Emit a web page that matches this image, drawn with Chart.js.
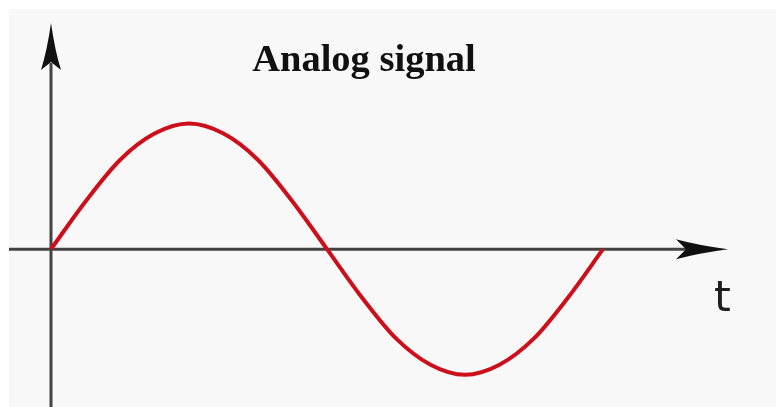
<!DOCTYPE html>
<html>
<head>
<meta charset="utf-8">
<title>Analog signal</title>
<script src="https://cdn.jsdelivr.net/npm/chart.js@4/dist/chart.umd.min.js"></script>
<style>
    body { margin: 0; background: #ffffff; }
    canvas { display: block; }
</style>
</head>
<body>
<canvas id="signalChart" width="776" height="407"></canvas>
<script>
// --- Signal samples (time vs. amplitude) ---
const timeSteps = [0, 0.5, 1, 1.5, 2, 2.5, 3, 3.5, 4, 4.5, 5, 5.5, 6, 6.5, 7, 7.5, 8];
const amplitude = [0, 0.38, 0.71, 0.92, 1, 0.92, 0.71, 0.38, 0, -0.38, -0.71, -0.92, -1, -0.92, -0.71, -0.38, 0];
const titleText = 'Analog signal';
const timeLabel = 't';

document.addEventListener('DOMContentLoaded', function () {
    const ctx = document.getElementById('signalChart')?.getContext('2d');
    if (!ctx) {
        console.warn("Canvas 'signalChart' not found.");
        return;
    }

    // Paper background, axes with arrow heads, title and the time label
    const axesPlugin = {
        id: 'axesWithArrows',
        beforeDraw(chart) {
            const c = chart.ctx;
            c.save();
            c.fillStyle = '#ffffff';
            c.fillRect(0, 0, chart.width, chart.height);
            c.fillStyle = '#f8f8f8';
            c.fillRect(9, 9, chart.width - 9, chart.height - 9);
            c.restore();
        },
        beforeDatasetsDraw(chart) {
            const c = chart.ctx;
            const area = chart.chartArea;
            const x0 = chart.scales.x.getPixelForValue(0);
            const y0 = chart.scales.y.getPixelForValue(0);

            c.save();
            c.strokeStyle = '#434343';
            c.lineWidth = 3;
            c.beginPath();
            c.moveTo(area.left, y0);
            c.lineTo(area.right - 40, y0);
            c.moveTo(x0, area.bottom);
            c.lineTo(x0, area.top + 40);
            c.stroke();

            // arrow heads
            c.fillStyle = '#111111';
            c.beginPath();
            c.moveTo(area.right, y0);
            c.quadraticCurveTo(area.right - 30, y0 - 4, area.right - 52, y0 - 10);
            c.lineTo(area.right - 42, y0);
            c.lineTo(area.right - 52, y0 + 10);
            c.quadraticCurveTo(area.right - 30, y0 + 4, area.right, y0);
            c.fill();

            c.beginPath();
            c.moveTo(x0, area.top);
            c.quadraticCurveTo(x0 - 4, area.top + 28, x0 - 10, area.top + 47);
            c.lineTo(x0, area.top + 39);
            c.lineTo(x0 + 10, area.top + 47);
            c.quadraticCurveTo(x0 + 4, area.top + 28, x0, area.top);
            c.fill();
            c.restore();
        },
        afterDraw(chart) {
            const c = chart.ctx;
            c.save();
            c.fillStyle = '#111111';
            c.textAlign = 'center';
            c.textBaseline = 'alphabetic';
            c.font = 'bold 38.5px "Liberation Serif", "Times New Roman", serif';
            c.fillText(titleText, 364, 71);

            c.fillStyle = '#1e1e1e';
            c.textAlign = 'left';
            c.font = '43px "DejaVu Sans", sans-serif';
            c.fillText(timeLabel, 714, 311);
            c.restore();
        }
    };

    new Chart(ctx, {
        type: 'line',
        data: {
            datasets: [{
                label: 'Analog signal',
                data: timeSteps.map((t, i) => ({ x: t, y: amplitude[i] })),
                borderColor: '#cc0f1a',
                borderWidth: 4,
                pointRadius: 0,
                cubicInterpolationMode: 'monotone',
                fill: false
            }]
        },
        options: {
            responsive: false,
            animation: false,
            devicePixelRatio: 1,
            layout: {
                padding: { left: 9, right: 48, top: 23, bottom: 0 }
            },
            plugins: {
                legend: { display: false },
                title: { display: false },
                tooltip: { enabled: false }
            },
            scales: {
                x: { type: 'linear', min: -0.6087, max: 9.8116, display: false },
                y: { type: 'linear', min: -1.256, max: 1.8, display: false }
            }
        },
        plugins: [axesPlugin]
    });
});
</script>
</body>
</html>
